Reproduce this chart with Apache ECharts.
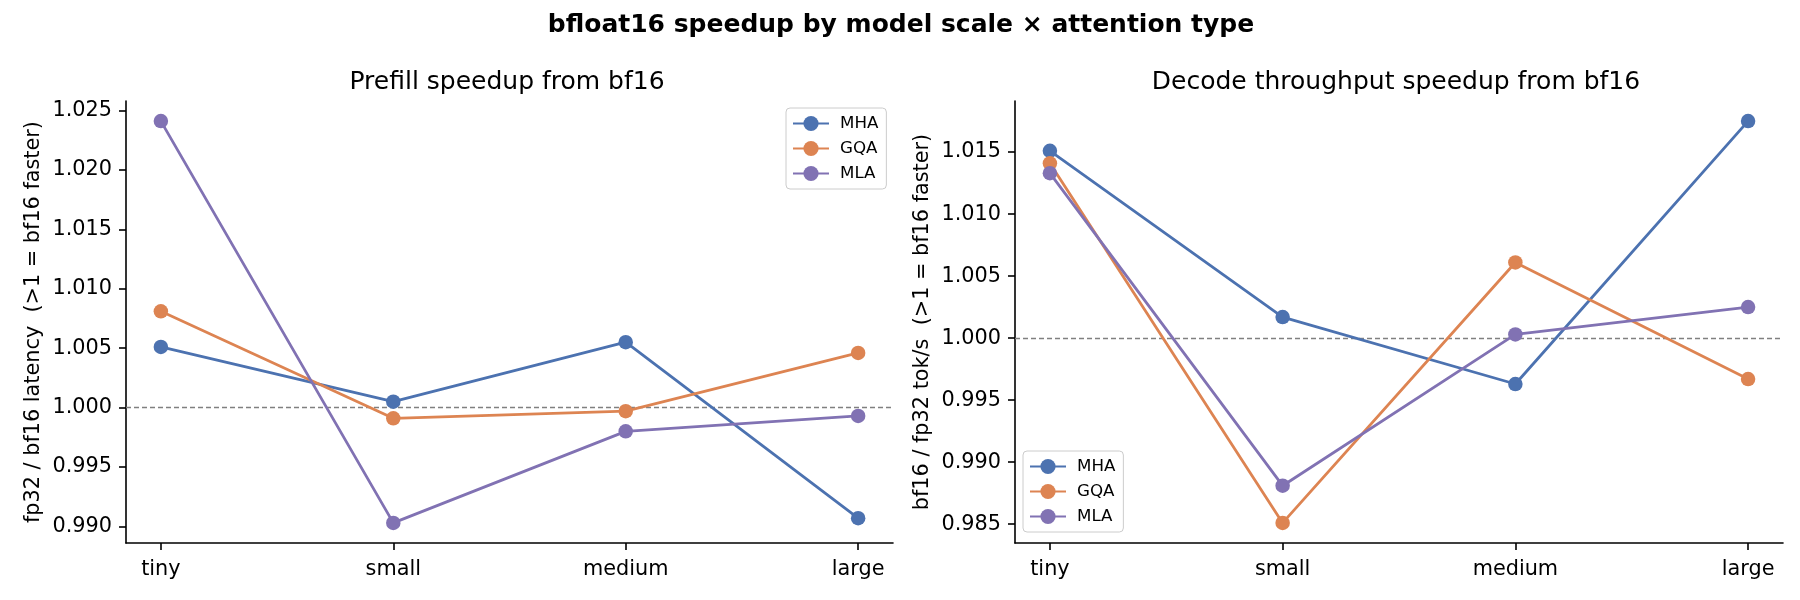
<!DOCTYPE html>
<html>
<head>
<meta charset="utf-8">
<script src="https://cdn.jsdelivr.net/npm/echarts@6/dist/echarts.min.js"></script>
<style>
  html, body { margin: 0; padding: 0; background: #fff; }
  #chart { width: 1800px; height: 600px; }
</style>
</head>
<body>
<div id="chart"></div>
<script>
// model scales on the x axis
const categories = ['tiny', 'small', 'medium', 'large']
const seriesNames = ['MHA', 'GQA', 'MLA']

// prefill: fp32 / bf16 latency
const prefillMHA = [1.0051, 1.0005, 1.0055, 0.9907]
const prefillGQA = [1.0081, 0.9991, 0.9997, 1.0046]
const prefillMLA = [1.0241, 0.9903, 0.9980, 0.9993]

// decode: bf16 / fp32 tok/s
const decodeMHA = [1.0151, 1.0017, 0.9963, 1.0175]
const decodeGQA = [1.0141, 0.9851, 1.0061, 0.9967]
const decodeMLA = [1.0133, 0.9881, 1.0003, 1.0025]

const prefillTicks = [0.990, 0.995, 1.000, 1.005, 1.010, 1.015, 1.020, 1.025]
const decodeTicks = [0.985, 0.990, 0.995, 1.000, 1.005, 1.010, 1.015]

const colors = ['#4c72b0', '#dd8452', '#8172b3']
const font = 'DejaVu Sans'

// matplotlib style 5% margins
function limits(arrs) {
    const all = [].concat.apply([], arrs)
    const lo = Math.min.apply(null, all), hi = Math.max.apply(null, all)
    const pad = (hi - lo) * 0.05
    return [lo - pad, hi + pad]
}

const pLim = limits([prefillMHA, prefillGQA, prefillMLA])
const dLim = limits([decodeMHA, decodeGQA, decodeMLA])

const axisLine = { show: true, onZero: false, lineStyle: { color: '#000', width: 1.6 } }
const axisTick = { show: true, length: 7, lineStyle: { color: '#000', width: 1.6 } }

function xAxis(idx) {
    return {
        type: 'value', gridIndex: idx, min: -0.15, max: 3.15,
        axisLine: axisLine,
        axisTick: Object.assign({ customValues: [0, 1, 2, 3] }, axisTick),
        axisLabel: {
            customValues: [0, 1, 2, 3], margin: 16,
            color: '#000', fontFamily: font, fontSize: 20.8,
            formatter: v => categories[Math.round(v)]
        },
        splitLine: { show: false }
    }
}

function yAxis(idx, lim, ticks, name) {
    return {
        type: 'value', gridIndex: idx, min: lim[0], max: lim[1],
        name: name, nameLocation: 'middle', nameGap: 82,
        nameTextStyle: { color: '#000', fontFamily: font, fontSize: 20.8 },
        axisLine: axisLine,
        axisTick: Object.assign({ customValues: ticks }, axisTick),
        axisLabel: {
            customValues: ticks, margin: 14,
            color: '#000', fontFamily: font, fontSize: 20.8,
            formatter: v => v.toFixed(3)
        },
        splitLine: { show: false }
    }
}

function lineSeries(name, vals, idx, color, withRef) {
    const s = {
        name: name, type: 'line', xAxisIndex: idx, yAxisIndex: idx,
        data: vals.map((v, i) => [i, v]),
        symbol: 'circle', symbolSize: 14.5,
        itemStyle: { color: color },
        lineStyle: { color: color, width: 2.8 },
        emphasis: { disabled: true },
        animation: false
    }
    if (withRef) {
        s.markLine = {
            silent: true, symbol: 'none', z: 1,
            label: { show: false },
            lineStyle: { color: '#808080', type: [5, 3], width: 1.4 },
            data: [{ yAxis: 1.0 }]
        }
    }
    return s
}

function legend(left, top) {
    return {
        data: seriesNames, orient: 'vertical', left: left, top: top,
        itemWidth: 36, itemHeight: 19, itemGap: 8,
        padding: [7, 8, 7, 6],
        backgroundColor: 'rgba(255,255,255,0.8)',
        borderColor: '#cccccc', borderWidth: 1, borderRadius: 4,
        textStyle: { color: '#000', fontFamily: font, fontSize: 16.7, padding: [0, 0, 0, 6] }
    }
}

const option = {
    backgroundColor: '#fff',
    animation: false,
    title: [
        { text: 'bfloat16 speedup by model scale \u00d7 attention type', left: 896, top: 8, textAlign: 'center',
          textStyle: { fontFamily: font, fontSize: 25, fontWeight: 'bold', color: '#000' } },
        { text: 'Prefill speedup from bf16', left: 502, top: 65, textAlign: 'center',
          textStyle: { fontFamily: font, fontSize: 25, fontWeight: 'normal', color: '#000' } },
        { text: 'Decode throughput speedup from bf16', left: 1391, top: 65, textAlign: 'center',
          textStyle: { fontFamily: font, fontSize: 25, fontWeight: 'normal', color: '#000' } }
    ],
    legend: [legend(786, 108), legend(1023, 451)],
    grid: [
        { left: 126, right: 907, top: 101, bottom: 57 },
        { left: 1015, right: 17, top: 101, bottom: 57 }
    ],
    xAxis: [xAxis(0), xAxis(1)],
    yAxis: [
        yAxis(0, pLim, prefillTicks, 'fp32 / bf16 latency  (>1 = bf16 faster)'),
        yAxis(1, dLim, decodeTicks, 'bf16 / fp32 tok/s  (>1 = bf16 faster)')
    ],
    series: [
        lineSeries('MHA', prefillMHA, 0, colors[0], true),
        lineSeries('GQA', prefillGQA, 0, colors[1]),
        lineSeries('MLA', prefillMLA, 0, colors[2]),
        lineSeries('MHA', decodeMHA, 1, colors[0], true),
        lineSeries('GQA', decodeGQA, 1, colors[1]),
        lineSeries('MLA', decodeMLA, 1, colors[2])
    ]
}

echarts.init(document.getElementById('chart')).setOption(option)
</script>
</body>
</html>
